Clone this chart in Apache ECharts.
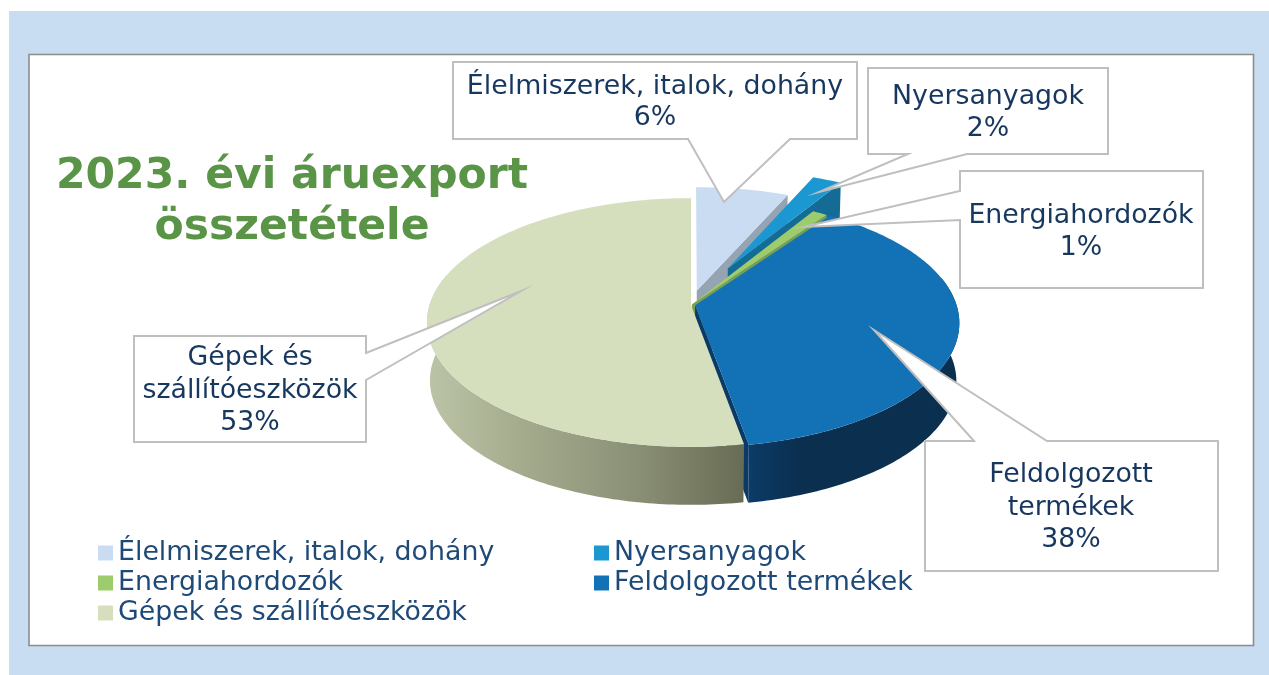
<!DOCTYPE html>
<html>
<head>
<meta charset="utf-8">
<style>html,body{margin:0;padding:0;background:#fff}#c{width:1269px;height:675px}</style>
<script src="https://cdn.jsdelivr.net/npm/echarts@6/dist/echarts.min.js"></script>
</head>
<body>
<div id="c"></div>
<script>
// ---------- data ----------
var categories = ['Élelmiszerek, italok, dohány', 'Nyersanyagok', 'Energiahordozók', 'Feldolgozott termékek', 'Gépek és szállítóeszközök'];
var values = [6, 2, 1, 38, 53];
var labelLines = ['Élelmiszerek, italok, dohány', 'Nyersanyagok', 'Energiahordozók', 'Feldolgozott\ntermékek', 'Gépek és\nszállítóeszközök'];
var titleText = '2023. évi áruexport\nösszetétele';

// ---------- styles ----------
var topColors = ['#c9dcf1', '#1b98d1', '#9dcc6c', '#1372b6', '#d5dfbd'];
var radialWallColors = ['#95a3b3', '#146c96', '#7a9f54', '#0b3a66', '#8d9378'];
var explode = [0.12, 0.345, 0.008, 0.016, 0];
var textColor = '#17375e';
var font = '"DejaVu Sans", Verdana, sans-serif';

// ---------- projection of the tilted disc ----------
var G = { x0: 691, y0: 305, A: 261.4, B: 121.9, p: 0.1406, D: 58, Ab: 258.5, warpBack: 3, warpFront: 2 };
var total = values.reduce(function (a, b) { return a + b; }, 0);
var starts = [], acc = 0;
values.forEach(function (v) { starts.push(acc / total * 360); acc += v; });
function ends(i) { return starts[i] + values[i] / total * 360; }
function rad(d) { return d * Math.PI / 180; }
function offset(i) {
  var m = rad((starts[i] + ends(i)) / 2);
  return [Math.sin(m) * explode[i], -Math.cos(m) * explode[i]];
}
function warped(deg) {
  if (deg > 0 && deg < 90) return deg + G.warpBack * Math.sin(rad(2 * deg));
  if (deg >= 90 && deg < 180) return deg - G.warpFront * Math.sin(rad(2 * deg));
  return deg;
}
function pt(i, deg, r, bottom) {
  var o = offset(i), a = rad(warped(deg));
  var u = o[0] + r * Math.sin(a), v = o[1] - r * Math.cos(a);
  var d = 1 - G.p * v;
  return [G.x0 + (bottom ? G.Ab : G.A) * u / d, G.y0 + (bottom ? G.D : 0) + G.B * v / d];
}
function arc(i, a, b, bottom) {
  var n = Math.max(2, Math.ceil(Math.abs(b - a))), out = [];
  for (var k = 0; k <= n; k++) out.push(pt(i, a + (b - a) * k / n, 1, bottom));
  return out;
}
function poly(points, fill, z2) {
  return { type: 'polygon', z2: z2, shape: { points: points }, style: { fill: fill }, silent: true };
}
function topFace(i, z2) {
  var p = [pt(i, 0, 0, false)].concat(arc(i, starts[i], ends(i), false));
  return poly(p, topColors[i], z2);
}
function radialWall(i, deg, z2) {
  return poly([pt(i, 0, 0, false), pt(i, deg, 1, false), pt(i, deg, 1, true), pt(i, 0, 0, true)], radialWallColors[i], z2);
}
function outerWall(i, a, b, fill, z2) {
  return poly(arc(i, a, b, false).concat(arc(i, b, a, true)), fill, z2);
}
var grad = function (stops) {
  return new echarts.graphic.LinearGradient(0, 0, 1, 0, stops.map(function (s) { return { offset: s[0], color: s[1] }; }));
};
var painters = [
  function () { return [radialWall(0, ends(0), 10), topFace(0, 11)]; },
  function () { return [radialWall(1, ends(1), 12), topFace(1, 13)]; },
  function () { return [radialWall(2, ends(2), 13.5), topFace(2, 19)]; },
  function () {
    return [
      outerWall(3, 75, ends(3), grad([[0, '#0c3c68'], [0.07, '#0b3760'], [0.25, '#0a2f4f'], [1, '#0a2f4f']]), 15),
      radialWall(3, ends(3), 14),
      topFace(3, 20)
    ];
  },
  function () {
    return [
      outerWall(4, starts[4], 285, grad([[0, '#bcc4a7'], [0.3, '#a4ab8d'], [0.65, '#8b9177'], [1, '#696c54']]), 14),
      topFace(4, 16)
    ];
  }
];

var series = categories.map(function (name, i) {
  return {
    type: 'custom',
    name: name,
    coordinateSystem: 'none',
    silent: true,
    animation: false,
    itemStyle: { color: topColors[i] },
    data: [values[i]],
    renderItem: function () {
      return { type: 'group', children: painters[i]() };
    }
  };
});

// ---------- callouts (annotation layout) ----------
var callouts = [
  { i: 0, pts: [[453, 62], [857, 62], [857, 139], [790, 139], [724, 202], [688, 139], [453, 139]], tx: 655, ty: 103, lh: 31, suffix: '6%' },
  { i: 1, pts: [[868, 68], [1108, 68], [1108, 154], [967, 154], [819, 192], [908, 154], [868, 154]], tx: 988, ty: 113, lh: 32.5, suffix: '2%' },
  { i: 2, pts: [[960, 171], [1203, 171], [1203, 288], [960, 288], [960, 220], [803, 227], [960, 191]], tx: 1081, ty: 232, lh: 32.5, suffix: '1%' },
  { i: 3, pts: [[925, 441], [974, 441], [874, 330], [1047, 441], [1218, 441], [1218, 571], [925, 571]], tx: 1071, ty: 508, lh: 32.5, suffix: '38%' },
  { i: 4, pts: [[134, 336], [366, 336], [366, 353], [521, 291], [366, 380], [366, 442], [134, 442]], tx: 250, ty: 391, lh: 32.5, suffix: '53%' }
];
var graphics = [
  { type: 'rect', z: -20, silent: true, shape: { x: 9, y: 11, width: 1260, height: 664 }, style: { fill: '#c9ddf2' } },
  { type: 'rect', z: -10, silent: true, shape: { x: 29, y: 54.5, width: 1224.5, height: 591 }, style: { fill: '#fff', stroke: '#8c8c8c', lineWidth: 1.6 } }
];
callouts.forEach(function (c) {
  graphics.push({ type: 'polygon', z: 100, silent: true, shape: { points: c.pts }, style: { fill: '#fff', stroke: '#bfbfbf', lineWidth: 2, lineJoin: 'miter', miterLimit: 20 } });
  graphics.push({ type: 'text', z: 101, silent: true, x: c.tx, y: c.ty, style: {
    text: labelLines[c.i] + '\n' + c.suffix, fill: textColor, font: '26.8px ' + font, align: 'center', verticalAlign: 'middle', lineHeight: c.lh
  } });
});

var legendText = { color: '#1f4a78', fontSize: 26.8, fontFamily: font, lineHeight: 30 };
var option = {
  animation: false,
  backgroundColor: '#fff',
  title: {
    text: titleText, left: 287, top: 146, textAlign: 'center',
    textStyle: { color: '#5a9447', fontSize: 42.5, fontWeight: 'bold', fontFamily: font, lineHeight: 51.5 }
  },
  legend: [
    { left: 98, top: 538, orient: 'vertical', itemWidth: 15, itemHeight: 15, itemGap: 0, icon: 'rect', selectedMode: false,
      padding: 0, textStyle: legendText, data: [categories[0], categories[2], categories[4]] },
    { left: 594, top: 538, orient: 'vertical', itemWidth: 15, itemHeight: 15, itemGap: 0, icon: 'rect', selectedMode: false,
      padding: 0, textStyle: legendText, data: [categories[1], categories[3]] }
  ],
  graphic: { elements: graphics },
  series: series
};
echarts.init(document.getElementById('c'), null, { renderer: 'canvas' }).setOption(option);
</script>
</body>
</html>
